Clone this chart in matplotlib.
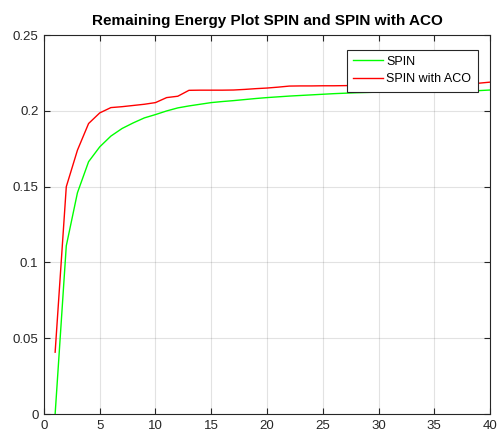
import numpy as np
import matplotlib
matplotlib.use("Agg")
import matplotlib.pyplot as plt

# Rounds (x axis)
rounds = list(range(1, 41))

# Remaining energy, SPIN
spin = [
    0.000, 0.111, 0.146, 0.1665, 0.1763, 0.1834, 0.1884, 0.1921, 0.1954, 0.1976,
    0.2000, 0.2020, 0.2033, 0.2044, 0.2055, 0.2062, 0.2068, 0.2075, 0.2082, 0.2088,
    0.2093, 0.2098, 0.2102, 0.2106, 0.2110, 0.2114, 0.2117, 0.2120, 0.2122, 0.2124,
    0.2126, 0.2127, 0.2128, 0.2129, 0.2130, 0.2131, 0.2132, 0.2133, 0.2134, 0.2138,
]

# Remaining energy, SPIN with ACO
spin_aco = [
    0.0408, 0.150, 0.1741, 0.1917, 0.1987, 0.2022, 0.2028, 0.2036, 0.2044, 0.2055,
    0.2088, 0.2097, 0.2136, 0.2137, 0.2137, 0.2137, 0.2138, 0.2142, 0.2147, 0.2151,
    0.2157, 0.2164, 0.2165, 0.2165, 0.2166, 0.2166, 0.2167, 0.2168, 0.2169, 0.2170,
    0.2171, 0.2172, 0.2173, 0.2174, 0.2175, 0.2176, 0.2178, 0.2180, 0.2183, 0.2190,
]

plt.rcParams["font.family"] = ["Liberation Sans", "DejaVu Sans"]
dark = (0.15, 0.15, 0.15)

fig = plt.figure(figsize=(4.97, 4.34), dpi=100)
ax = fig.add_axes([0.0885, 0.046, 0.8975, 0.873])

ax.plot(rounds, spin, color=(0, 1, 0), lw=1.0, label="SPIN")
ax.plot(rounds, spin_aco, color=(1, 0, 0), lw=1.0, label="SPIN with ACO")

# Tidy up like a MATLAB figure
ax.set_xlim(0, 40)
ax.set_ylim(0, 0.25)
ax.set_xticks(np.arange(0, 41, 5))
ax.set_yticks([0, 0.05, 0.1, 0.15, 0.2, 0.25])
ax.set_yticklabels(["0", "0.05", "0.1", "0.15", "0.2", "0.25"])
ax.grid(True, color=(0.15, 0.15, 0.15), alpha=0.13, lw=0.8)
ax.tick_params(direction="in", top=True, right=True, length=4.5, width=0.8,
               colors=dark, labelsize=9.5, pad=4)
for sp in ax.spines.values():
    sp.set_color(dark)
    sp.set_linewidth(0.8)

ax.set_title("Remaining Energy Plot SPIN and SPIN with ACO", fontsize=11,
             fontweight="bold", pad=7)

leg = ax.legend(loc="upper right", bbox_to_anchor=(0.972, 0.962),
                borderaxespad=0, fontsize=9, fancybox=False, framealpha=1,
                edgecolor=dark, handlelength=2.4, handletextpad=0.25,
                labelspacing=0.45, borderpad=0.5)
leg.get_frame().set_linewidth(0.8)

plt.savefig("out.png", dpi=100)
